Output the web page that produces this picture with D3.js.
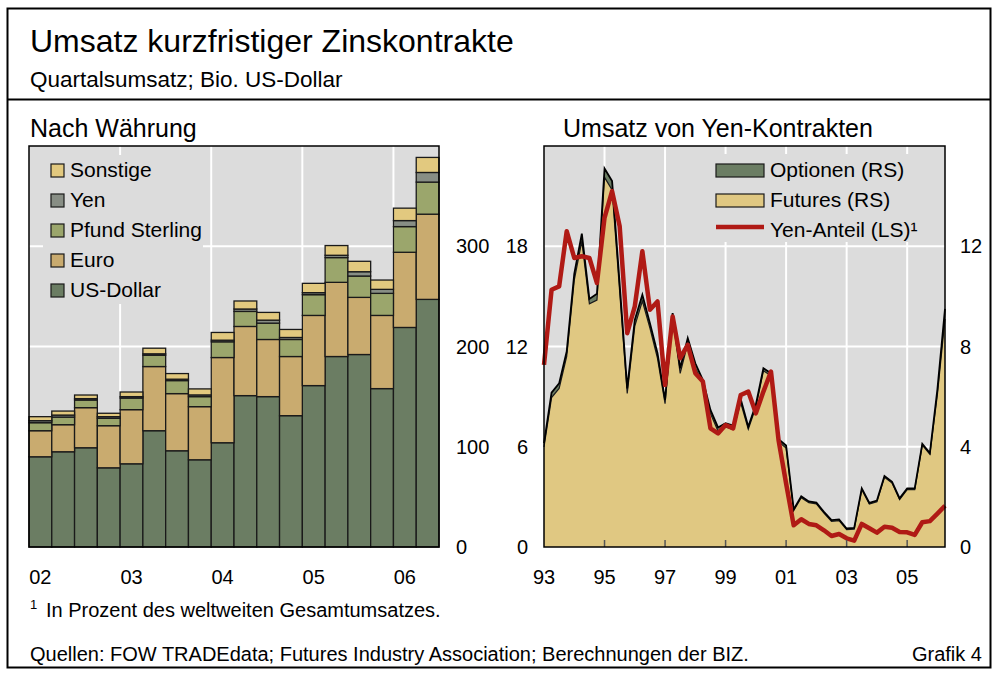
<!DOCTYPE html>
<html>
<head>
    <meta charset="utf-8">
    <title>Umsatz kurzfristiger Zinskontrakte</title>
    <script src="https://cdn.jsdelivr.net/npm/d3@7/dist/d3.min.js"></script>
    <style type="text/css">
        body {
            margin: 0;
            background: #ffffff;
        }

        svg text {
            font-family: 'Liberation Sans', Arial, sans-serif;
            fill: #000000;
        }

        .axisLabel {
            font-size: 20px;
        }

        .legendLabel {
            font-size: 21px;
        }
    </style>
</head>
<body>
<div id="chart"></div>
<script>
// Nach Währung: quarterly turnover, USD trillions
var barQuarters = ['02Q1', '02Q2', '02Q3', '02Q4', '03Q1', '03Q2', '03Q3', '03Q4',
                   '04Q1', '04Q2', '04Q3', '04Q4', '05Q1', '05Q2', '05Q3', '05Q4',
                   '06Q1', '06Q2'];
var barYearLabels = ['02', '03', '04', '05', '06'];
var usDollar = [90, 95, 99, 79, 83, 116, 96, 87, 104, 151, 150, 131, 161, 190, 192, 158, 219, 247];
var euro = [26, 27, 40, 42, 54, 64, 57, 53, 85, 69, 57, 59, 70, 74, 57, 73, 75, 85];
var pfund = [8, 7.6, 7.6, 7.4, 11.6, 11.3, 13, 10, 15.7, 15, 16.3, 17, 20.7, 24.7, 21.3, 22, 25.6, 32];
var yen = [2, 2, 1.4, 1.6, 1.4, 1.4, 1.4, 1.7, 1.6, 2.4, 3, 2, 2, 2.3, 4.3, 4, 6, 9.6];
var sonstige = [4, 4, 3.6, 3.4, 4.6, 5.6, 5.6, 6, 7.7, 8, 7.7, 8, 9.3, 9.7, 10.4, 9.3, 12.4, 15];
var barSeries = ['US-Dollar', 'Euro', 'Pfund Sterling', 'Yen', 'Sonstige'];
var barLeftTicks = [0, 100, 200, 300];

// Umsatz von Yen-Kontrakten: 1993Q1 .. 2006Q2
var yenQuarters = d3.range(54).map(function(i) { return 1993 + i / 4; });
var yenTotal = [4.14, 6.16, 6.53, 7.8, 10.9, 12.5, 9.9, 10.1, 15.1, 14.6,
                10.5, 6.33, 9.06, 10.06, 8.93, 7.73, 5.87, 9.33, 7.13, 8.33,
                7.33, 6.66, 5.47, 4.77, 4.94, 4.84, 5.9, 4.8, 5.68, 7.13,
                6.93, 4.3, 4.05, 1.5, 2.02, 1.82, 1.77, 1.4, 1.07, 1.1,
                0.74, 0.76, 2.34, 1.76, 1.85, 2.83, 2.6, 1.94, 2.34, 2.34,
                4.12, 3.75, 6.3, 9.5];
var yenOptions = [0.15, 0.2, 0.2, 0.2, 0.25, 0.3, 0.2, 0.25, 0.35, 0.35,
                  0.3, 0.2, 0.25, 0.25, 0.2, 0.2, 0.15, 0.2, 0.2, 0.2,
                  0.2, 0.15, 0.15, 0.15, 0.15, 0.15, 0.15, 0.1, 0.1, 0.1,
                  0.1, 0.1, 0.1, 0.05, 0.05, 0.05, 0.05, 0.05, 0.05, 0.05,
                  0.05, 0.05, 0.05, 0.05, 0.05, 0.05, 0.05, 0.05, 0.05, 0.05,
                  0.05, 0.05, 0.2, 0.4];
var yenShare = [10.9, 15.4, 15.6, 18.9, 17.3, 17.4, 17.3, 15.8, 19.7, 21.3,
                19.2, 12.8, 14.4, 17.7, 14.2, 14.7, 9.7, 13.8, 11.3, 12.1,
                10.4, 9.9, 7.1, 6.8, 7.3, 7.1, 9.1, 9.3, 8.0, 9.3,
                10.5, 6.4, 3.8, 1.3, 1.66, 1.38, 1.3, 1.0, 0.66, 0.78,
                0.52, 0.38, 1.38, 1.12, 0.86, 1.21, 1.15, 0.9, 0.88, 0.72,
                1.48, 1.55, 2.0, 2.47];
var yenYearTicks = [1993, 1995, 1997, 1999, 2001, 2003, 2005];
var yenYearLabels = ['93', '95', '97', '99', '01', '03', '05'];
var yenLeftTicks = [0, 6, 12, 18];
var yenRightTicks = [0, 4, 8, 12];

var width = 997, height = 675;
var plotBg = '#dcdcdc', edge = '#1a1a1a';
var barColors = ['#6b7d63', '#c9ab6f', '#9ba66c', '#888e85', '#e2c97f'];

var svg = d3.select('#chart').append('svg')
            .attr('width', width).attr('height', height);

// frame and headings
svg.append('rect')
   .attr('x', 7.5).attr('y', 8.5).attr('width', 983).attr('height', 659)
   .attr('fill', 'none').attr('stroke', '#000').attr('stroke-width', 2);
svg.append('line')
   .attr('x1', 7.5).attr('x2', 990.5).attr('y1', 99.5).attr('y2', 99.5)
   .attr('stroke', '#000').attr('stroke-width', 2);

svg.append('text').attr('x', 30).attr('y', 52).style('font-size', '32px')
   .text('Umsatz kurzfristiger Zinskontrakte');
svg.append('text').attr('x', 30).attr('y', 87).style('font-size', '22.5px')
   .text('Quartalsumsatz; Bio. US-Dollar');
svg.append('text').attr('x', 30).attr('y', 137).style('font-size', '25px')
   .text('Nach Währung');
svg.append('text').attr('x', 563).attr('y', 137).style('font-size', '25px')
   .text('Umsatz von Yen-Kontrakten');

// ---------- left panel: stacked bars ----------
var bx = d3.scaleBand().domain(barQuarters).range([29, 439]).padding(0),
    by = d3.scaleLinear().domain([0, 400]).range([547, 146]);

var left = svg.append('g');
left.append('rect').attr('x', 29).attr('y', 146).attr('width', 410).attr('height', 401)
    .attr('fill', plotBg);

left.selectAll('.hgrid').data(barLeftTicks.slice(1))
    .enter().append('line')
    .attr('x1', 29).attr('x2', 439)
    .attr('y1', function(d) { return by(d); }).attr('y2', function(d) { return by(d); })
    .attr('stroke', '#fff').attr('stroke-width', 2);

left.selectAll('.vgrid').data(['03Q1', '04Q1', '05Q1', '06Q1'])
    .enter().append('line')
    .attr('x1', function(d) { return bx(d); }).attr('x2', function(d) { return bx(d); })
    .attr('y1', 146).attr('y2', 547)
    .attr('stroke', '#fff').attr('stroke-width', 2);

// legend box hides the grid behind it
left.append('rect').attr('x', 43).attr('y', 155).attr('width', 160).attr('height', 149)
    .attr('fill', plotBg);

var barTable = barQuarters.map(function(q, i) {
    return {q: q, 'US-Dollar': usDollar[i], 'Euro': euro[i], 'Pfund Sterling': pfund[i],
            'Yen': yen[i], 'Sonstige': sonstige[i]};
});
var stacked = d3.stack().keys(barSeries)(barTable);

left.selectAll('.layer').data(stacked)
    .enter().append('g')
    .attr('fill', function(d, i) { return barColors[i]; })
    .selectAll('rect').data(function(d) { return d; })
    .enter().append('rect')
    .attr('x', function(d) { return bx(d.data.q); })
    .attr('width', bx.bandwidth())
    .attr('y', function(d) { return by(d[1]); })
    .attr('height', function(d) { return by(d[0]) - by(d[1]); })
    .attr('stroke', edge).attr('stroke-width', 1.3);

left.append('rect').attr('x', 29).attr('y', 146).attr('width', 410).attr('height', 401)
    .attr('fill', 'none').attr('stroke', '#000').attr('stroke-width', 1.5);

left.selectAll('.ylab').data(barLeftTicks)
    .enter().append('text').attr('class', 'axisLabel')
    .attr('x', 456).attr('y', function(d) { return by(d) + 7; })
    .text(function(d) { return d; });

left.selectAll('.xlab').data(barYearLabels)
    .enter().append('text').attr('class', 'axisLabel')
    .attr('text-anchor', 'middle')
    .attr('x', function(d) { return bx(d + 'Q1') + bx.bandwidth() / 2; })
    .attr('y', 584)
    .text(function(d) { return d; });

var barLegend = barSeries.slice().reverse();
var lg = left.selectAll('.lg').data(barLegend).enter().append('g');
lg.append('rect')
  .attr('x', 51).attr('y', function(d, i) { return 164 + i * 30; })
  .attr('width', 13).attr('height', 13)
  .attr('fill', function(d) { return barColors[barSeries.indexOf(d)]; })
  .attr('stroke', edge).attr('stroke-width', 1.2);
lg.append('text').attr('class', 'legendLabel')
  .attr('x', 70).attr('y', function(d, i) { return 177 + i * 30; })
  .text(function(d) { return d; });

// ---------- right panel: yen contracts ----------
var rx = d3.scaleLinear().domain([1993, 2006.25]).range([544, 945]),
    ryR = d3.scaleLinear().domain([0, 16]).range([547, 146]),
    ryL = d3.scaleLinear().domain([0, 24]).range([547, 146]);

var right = svg.append('g');
right.append('rect').attr('x', 544).attr('y', 146).attr('width', 401).attr('height', 401)
     .attr('fill', plotBg);

right.selectAll('.hgrid').data(yenLeftTicks.slice(1))
     .enter().append('line')
     .attr('x1', 544).attr('x2', 945)
     .attr('y1', function(d) { return ryL(d); }).attr('y2', function(d) { return ryL(d); })
     .attr('stroke', '#fff').attr('stroke-width', 2);

right.selectAll('.vgrid').data(yenYearTicks.slice(1))
     .enter().append('line')
     .attr('x1', function(d) { return rx(d); }).attr('x2', function(d) { return rx(d); })
     .attr('y1', 146).attr('y2', 547)
     .attr('stroke', '#fff').attr('stroke-width', 2);

right.append('rect').attr('x', 706).attr('y', 154).attr('width', 238).attr('height', 88)
     .attr('fill', plotBg);

var yenData = yenQuarters.map(function(t, i) {
    return {t: t, fut: yenTotal[i] - yenOptions[i], tot: yenTotal[i], share: yenShare[i]};
});

var futArea = d3.area()
    .x(function(d) { return rx(d.t); })
    .y0(ryR(0))
    .y1(function(d) { return ryR(d.fut); });
var optArea = d3.area()
    .x(function(d) { return rx(d.t); })
    .y0(function(d) { return ryR(d.fut); })
    .y1(function(d) { return ryR(d.tot); });

right.append('path').datum(yenData).attr('d', futArea).attr('fill', '#e0c882');
right.append('path').datum(yenData).attr('d', optArea).attr('fill', '#6b7d63');

right.append('path').datum(yenData)
     .attr('d', d3.line().x(function(d) { return rx(d.t); }).y(function(d) { return ryR(d.fut); }))
     .attr('fill', 'none').attr('stroke', edge).attr('stroke-width', 1.2);
right.append('path').datum(yenData)
     .attr('d', d3.line().x(function(d) { return rx(d.t); }).y(function(d) { return ryR(d.tot); }))
     .attr('fill', 'none').attr('stroke', '#000').attr('stroke-width', 1.8);

right.append('path').datum(yenData)
     .attr('d', d3.line().x(function(d) { return rx(d.t); }).y(function(d) { return ryL(d.share); }))
     .attr('fill', 'none').attr('stroke', '#b01a15').attr('stroke-width', 4.5)
     .attr('stroke-linejoin', 'round');

// small ticks on the bottom edge
right.selectAll('.tick').data(yenYearTicks.slice(1))
     .enter().append('line')
     .attr('x1', function(d) { return rx(d); }).attr('x2', function(d) { return rx(d); })
     .attr('y1', 547).attr('y2', 540)
     .attr('stroke', '#555').attr('stroke-width', 1.5);

right.append('rect').attr('x', 544).attr('y', 146).attr('width', 401).attr('height', 401)
     .attr('fill', 'none').attr('stroke', '#000').attr('stroke-width', 1.5);

right.selectAll('.ylabL').data(yenLeftTicks)
     .enter().append('text').attr('class', 'axisLabel')
     .attr('text-anchor', 'end')
     .attr('x', 528).attr('y', function(d) { return ryL(d) + 7; })
     .text(function(d) { return d; });

right.selectAll('.ylabR').data(yenRightTicks)
     .enter().append('text').attr('class', 'axisLabel')
     .attr('x', 960).attr('y', function(d) { return ryR(d) + 7; })
     .text(function(d) { return d; });

right.selectAll('.xlab').data(yenYearTicks)
     .enter().append('text').attr('class', 'axisLabel')
     .attr('text-anchor', 'middle')
     .attr('x', function(d) { return rx(d); }).attr('y', 584)
     .text(function(d, i) { return yenYearLabels[i]; });

var rl = right.append('g');
rl.append('rect').attr('x', 716).attr('y', 164).attr('width', 48).attr('height', 13)
  .attr('fill', '#6b7d63').attr('stroke', edge).attr('stroke-width', 1.2);
rl.append('rect').attr('x', 716).attr('y', 194).attr('width', 48).attr('height', 13)
  .attr('fill', '#e0c882').attr('stroke', edge).attr('stroke-width', 1.2);
rl.append('line').attr('x1', 716).attr('x2', 764).attr('y1', 227).attr('y2', 227)
  .attr('stroke', '#b01a15').attr('stroke-width', 4.5);
rl.selectAll('.rlt').data(['Optionen (RS)', 'Futures (RS)', 'Yen-Anteil (LS)¹'])
  .enter().append('text').attr('class', 'legendLabel')
  .attr('x', 770).attr('y', function(d, i) { return 177 + i * 30; })
  .text(function(d) { return d; });

// footnote and sources
svg.append('text').attr('x', 30).attr('y', 609).style('font-size', '13px').text('1');
svg.append('text').attr('x', 46).attr('y', 617).style('font-size', '20px')
   .text('In Prozent des weltweiten Gesamtumsatzes.');
svg.append('text').attr('x', 30).attr('y', 661).style('font-size', '20px')
   .text('Quellen: FOW TRADEdata; Futures Industry Association; Berechnungen der BIZ.');
svg.append('text').attr('x', 982).attr('y', 661).attr('text-anchor', 'end').style('font-size', '20px')
   .text('Grafik 4');
</script>
</body>
</html>
